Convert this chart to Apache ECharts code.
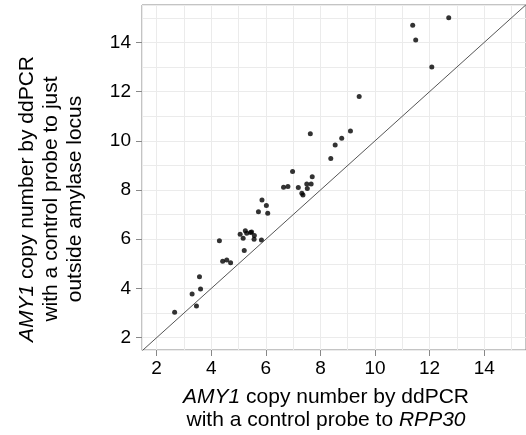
<!DOCTYPE html>
<html>
<head>
<meta charset="utf-8">
<script src="https://cdn.jsdelivr.net/npm/echarts@6/dist/echarts.min.js"></script>
<style>
  html, body { margin: 0; padding: 0; background: #fff; }
  #chart { width: 526px; height: 435px; }
</style>
</head>
<body>
<div id="chart"></div>
<script>
// copy number with RPP30 reference probe (x) vs control probe outside the locus (y)
var rpp30 = [6.98, 7.70, 6.65, 6.81, 7.19, 7.50, 7.66, 7.52, 7.32, 7.36,
  5.86, 6.02, 5.73, 6.07, 5.06, 5.25, 5.30, 5.44, 5.48, 5.17,
  5.58, 5.57, 5.84, 4.30, 5.21, 4.42, 4.57, 4.71, 3.57, 3.61,
  3.30, 3.46, 2.66, 11.38, 12.70, 11.49, 12.08, 9.42, 7.63, 9.10,
  8.78, 8.54, 8.38]
var outside = [8.75, 8.54, 8.11, 8.14, 8.10, 8.25, 8.25, 8.06, 7.87, 7.80,
  7.60, 7.37, 7.12, 7.06, 6.20, 6.35, 6.24, 6.27, 6.30, 6.04,
  6.15, 6.00, 5.97, 5.94, 5.54, 5.11, 5.16, 5.05, 4.48, 3.98,
  3.78, 3.29, 3.03, 14.70, 15.00, 14.10, 13.00, 11.80, 10.29, 10.40,
  10.11, 9.83, 9.28]
var identity = [[0, 0], [17, 17]]

var xTicks = [2, 4, 6, 8, 10, 12, 14]
var yTicks = [2, 4, 6, 8, 10, 12, 14]

var xRange = [1.465, 15.53]
var yRange = [1.5, 15.52]

var font = 'Liberation Sans, Arial, Helvetica, sans-serif'
var gridColor = '#ebebeb'

var chart = echarts.init(document.getElementById('chart'))

var points = rpp30.map(function (x, i) { return [x, outside[i]] })

function axes(pos, range, ticks) {
  return [{
    // light grid at every integer
    type: 'value', position: pos, min: range[0], max: range[1], splitNumber: 14,
    axisLine: { show: false }, axisTick: { show: false }, axisLabel: { show: false },
    splitLine: { lineStyle: { color: gridColor, width: 1 } }
  }, {
    type: 'value', position: pos, min: range[0], max: range[1],
    axisLine: { show: false },
    axisTick: { show: true, length: 6, customValues: ticks, lineStyle: { color: '#888' } },
    axisLabel: {
      customValues: ticks, color: '#000', fontSize: 19, fontFamily: font,
      margin: pos === 'bottom' ? 9 : 11
    },
    splitLine: { show: false }
  }]
}

chart.setOption({
  animation: false,
  grid: {
    left: 142, top: 5, width: 386, height: 345,
    show: true, borderColor: '#888', borderWidth: 1
  },
  xAxis: axes('bottom', xRange, xTicks),
  yAxis: axes('left', yRange, yTicks),
  series: [{
    type: 'line',
    xAxisIndex: 1, yAxisIndex: 1,
    data: identity,
    symbol: 'none',
    clip: true,
    lineStyle: { color: '#555', width: 1 },
    silent: true
  }, {
    type: 'scatter',
    xAxisIndex: 1, yAxisIndex: 1,
    data: points,
    symbolSize: 5,
    itemStyle: { color: '#000' }
  }],
  graphic: [{
    type: 'text',
    x: 326, y: 409,
    style: {
      text: '{i|AMY1} copy number by ddPCR\nwith a control probe to {i|RPP30}',
      font: '21px ' + font,
      fill: '#000',
      align: 'center',
      verticalAlign: 'middle',
      lineHeight: 23,
      rich: { i: { fontStyle: 'italic', fontSize: 21, fontFamily: font, lineHeight: 23 } }
    }
  }, {
    type: 'text',
    x: 51, y: 199,
    rotation: Math.PI / 2,
    style: {
      text: '{i|AMY1} copy number by ddPCR\nwith a control probe to just\noutside amylase locus',
      font: '21px ' + font,
      fill: '#000',
      align: 'center',
      verticalAlign: 'middle',
      lineHeight: 24,
      rich: { i: { fontStyle: 'italic', fontSize: 21, fontFamily: font, lineHeight: 24 } }
    }
  }]
})
</script>
</body>
</html>
